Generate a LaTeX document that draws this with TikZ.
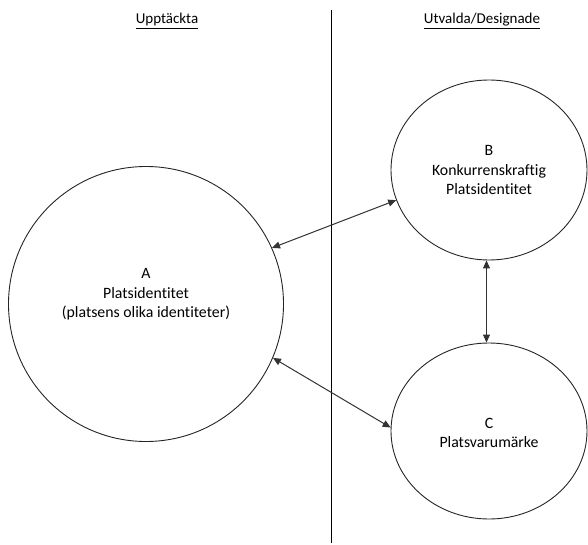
\documentclass[tikz,border=0pt]{standalone}
\usepackage{fontspec}
\setmainfont[Ligatures=NoCommon]{Carlito}
\usetikzlibrary{shapes.geometric,arrows.meta}
\begin{document}
\begin{tikzpicture}[x=1pt,y=-1pt,
  txt/.style={font=\fontsize{15.8}{19.5}\selectfont, text=black, align=center, inner sep=0pt},
  heading/.style={font=\fontsize{15}{17}\selectfont, text=black, inner sep=0pt, anchor=base},
  zone/.style={draw=black!85, line width=0.9pt, fill=none},
  link/.style={draw=black!80, line width=1pt, {Triangle[length=8pt,width=7pt]}-{Triangle[length=8pt,width=7pt]}},
  divider/.style={draw=black, line width=1pt}]
  \useasboundingbox (0,0) rectangle (588,545);

  % column headings
  \node[heading] (h1) at (167,24) {\underline{Upptäckta}};
  \node[heading] (h2) at (482,24) {\underline{Utvalda/Designade}};

  % divider between the two columns
  \coordinate (dtop) at (331.5,10);
  \coordinate (dbot) at (331.5,543);
  \draw[divider] (dtop) -- (dbot);

  % identity shapes
  \node[zone, circle, minimum size=275pt, inner sep=0pt] (A) at (146,304) {};
  \node[zone, ellipse, minimum width=196pt, minimum height=180pt, inner sep=0pt] (B) at (489,170) {};
  \node[zone, ellipse, minimum width=196pt, minimum height=176pt, inner sep=0pt] (C) at (489,431) {};

  % labels inside the shapes
  \node[txt] (At) at (146,294.5) {A\\Platsidentitet\\(platsens olika identiteter)};
  \node[txt] (Bt) at (489,170) {B\\Konkurrenskraftig\\Platsidentitet};
  \node[txt] (Ct) at (489,433) {C\\Platsvarumärke};

  % relations
  \draw[link] (A.24) -- (B.198);
  \draw[link] (A.-23) -- (C.178);
  \draw[link] ([xshift=-2.5pt]B.south) -- ([xshift=-2.5pt]C.north);
\end{tikzpicture}
\end{document}
